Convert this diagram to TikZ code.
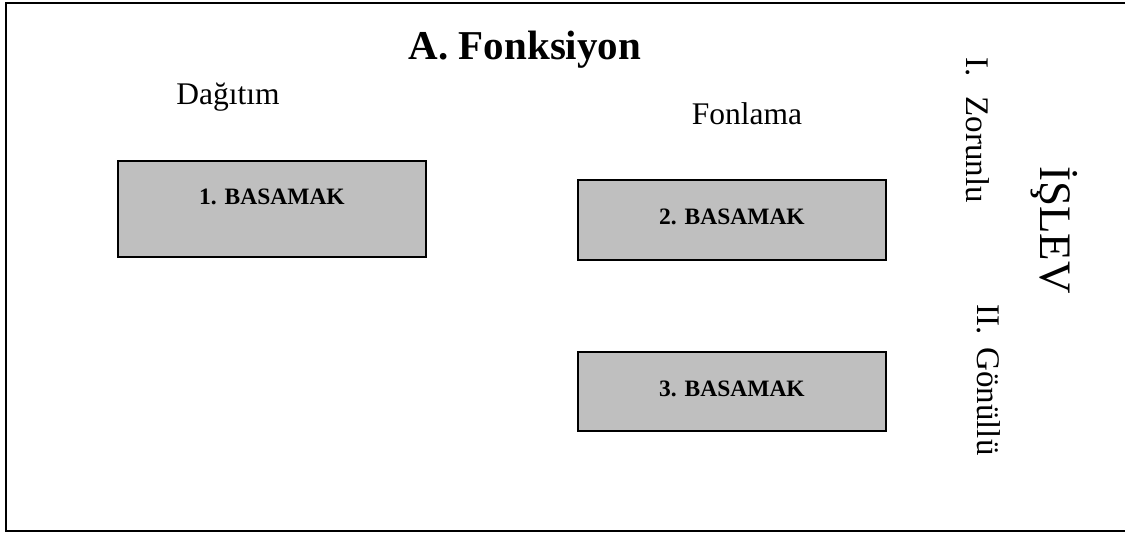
\documentclass[tikz,border=0pt]{standalone}
\usepackage{fontspec}
\setmainfont{Liberation Serif}
\tikzset{
  frameline/.style={line width=2pt},
  basamak/.style={draw=black, line width=1.4pt, fill=gray!50!white, inner sep=0pt, minimum width=308pt, align=center, font=\fontsize{23.5}{28}\selectfont\bfseries},
  plain/.style={inner sep=0pt, font=\fontsize{31.5}{37}\selectfont},
  vert/.style={inner sep=0pt, rotate=-90, font=\fontsize{33}{39}\selectfont},
}
\begin{document}
\begin{tikzpicture}[x=1pt,y=-1pt]
\useasboundingbox (0,0) rectangle (1125,534);
\draw[frameline] (1126,3) -- (6,3) -- (6,531) -- (1126,531);
\node[inner sep=0pt, anchor=base, font=\fontsize{41}{48}\selectfont\bfseries] (title) at (525,60) {A. Fonksiyon};
\node[plain, anchor=base] (dag) at (228,105) {Dağıtım};
\node[plain, anchor=base] (fon) at (747,125) {Fonlama};
\node[basamak, text height=44pt, text depth=52pt] (b1) at (272,209) {1. BASAMAK};
\node[basamak, text height=45pt, text depth=35pt] (b2) at (732,220) {2. BASAMAK};
\node[basamak, text height=45pt, text depth=34pt] (b3) at (732,391.5) {3. BASAMAK};
\node[vert] (zor) at (978,130) {I.\hspace{20pt}Zorunlu};
\node[vert] (gon) at (989,380) {II.\hspace{13pt}Gönüllü};
\node[inner sep=0pt, rotate=-90, font=\fontsize{45}{52}\selectfont] (islev) at (1054,230) {İŞLEV};
\end{tikzpicture}
\end{document}
